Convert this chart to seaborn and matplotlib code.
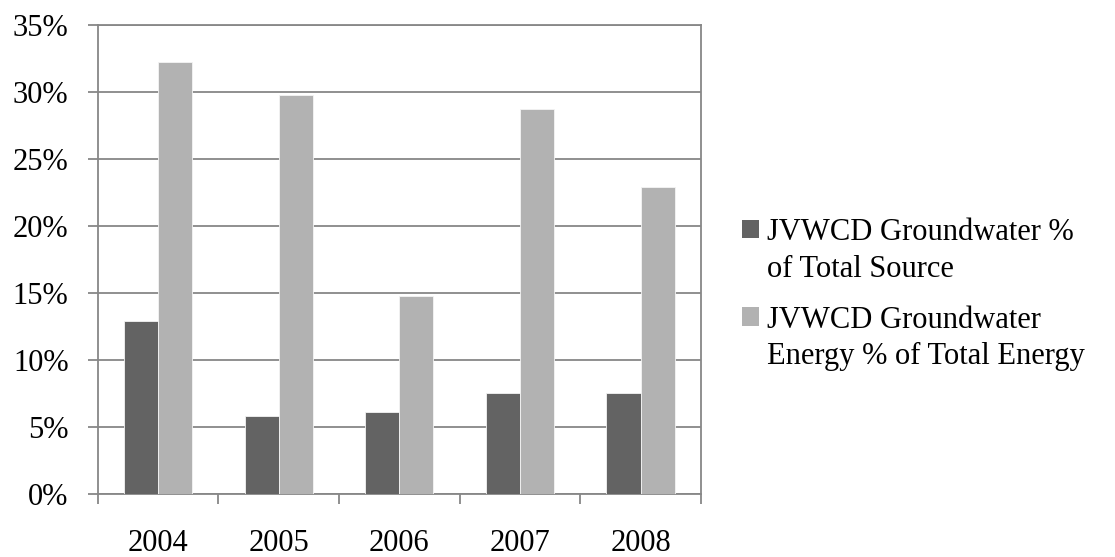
import matplotlib
matplotlib.use("Agg")
import matplotlib.pyplot as plt
import seaborn as sns
import pandas as pd
from matplotlib.ticker import FuncFormatter, MultipleLocator
from matplotlib.patches import Rectangle
from matplotlib.legend_handler import HandlerPatch

years = ["2004", "2005", "2006", "2007", "2008"]
source_pct = [12.9, 5.8, 6.1, 7.5, 7.5]
energy_pct = [32.2, 29.75, 14.8, 28.7, 22.9]
series_names = ["JVWCD Groundwater %\nof Total Source",
                "JVWCD Groundwater\nEnergy % of Total Energy"]

df = pd.DataFrame({
    "Year": years * 2,
    "Value": source_pct + energy_pct,
    "Series": [series_names[0]] * len(years) + [series_names[1]] * len(years),
})

sns.set_style("white")
plt.rcParams['font.family'] = ['Liberation Serif', 'DejaVu Serif']
plt.rcParams['text.color'] = 'black'
plt.rcParams['xtick.color'] = 'black'
plt.rcParams['ytick.color'] = 'black'

fig = plt.figure(figsize=(11.15, 5.57), dpi=100)
ax = fig.add_axes([0.0876, 0.113, 0.541, 0.843])

sns.barplot(data=df, x="Year", y="Value", hue="Series",
            palette=["#636363", "#b2b2b2"], width=0.565, ax=ax,
            edgecolor="#f4f4f4", linewidth=0.6, errorbar=None, zorder=3)

ax.set_ylim(0, 35)
ax.set_xlim(-0.5, 4.5)
ax.yaxis.set_major_locator(MultipleLocator(5))
ax.yaxis.set_major_formatter(FuncFormatter(lambda v, p: f"{int(v)}%"))
ax.grid(axis="y", color="#878787", linewidth=1.3, zorder=0)
ax.set_axisbelow(True)
for s in ax.spines.values():
    s.set_color("#878787")
    s.set_linewidth(1.3)

ax.set_xlabel("")
ax.set_ylabel("")
ax.set_xticks(range(len(years)))
ax.set_xticklabels(years)
ax.tick_params(axis="x", length=0, pad=25, labelsize=22, labelcolor="black")
ax.tick_params(axis="y", length=7, width=1.3, color="#878787", direction="out",
               left=True, labelsize=22, pad=14, labelcolor="black")
# x tick marks between categories
ax.set_xticks([i - 0.5 for i in range(len(years) + 1)], minor=True)
ax.tick_params(axis="x", which="minor", length=7, width=1.3, color="#878787",
               direction="out", bottom=True)


def top_square(legend, orig_handle, xdescent, ydescent, width, height, fontsize):
    return Rectangle((-xdescent, -ydescent + 16), width, height)


handles, labels = ax.get_legend_handles_labels()
leg = ax.legend(handles, labels, loc="center left",
                bbox_to_anchor=(0.652, 0.471), bbox_transform=fig.transFigure,
                frameon=False, fontsize=22, handlelength=0.55, handleheight=0.55,
                handletextpad=0.26, labelspacing=0.72, borderpad=0,
                handler_map={h: HandlerPatch(patch_func=top_square) for h in handles})
for h in leg.legend_handles:
    h.set_edgecolor("none")
for t in leg.get_texts():
    t.set_linespacing(1.35)

fig.savefig("out.png", dpi=100)
